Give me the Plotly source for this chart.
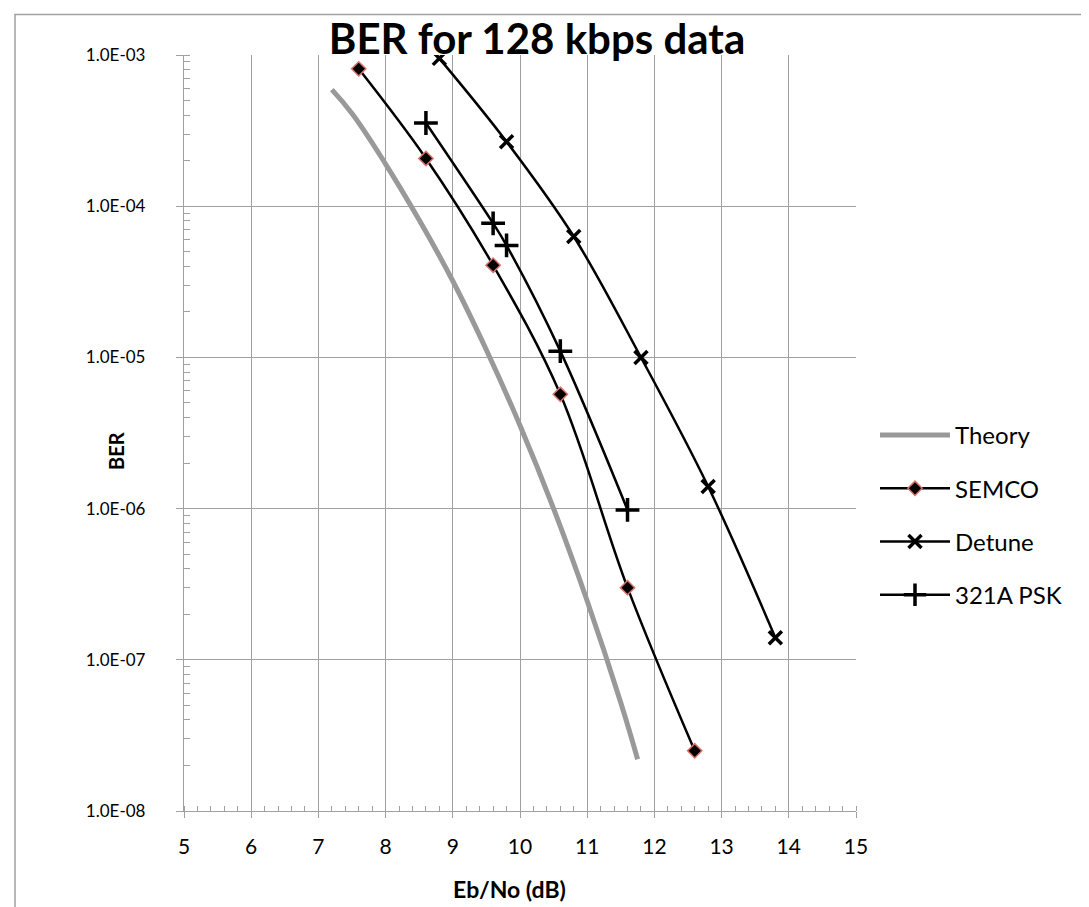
import plotly.graph_objects as go

# ---- data ----
theory_x = [7.2, 7.5, 8.0, 8.5, 9.0, 9.5, 10.0, 10.5, 11.0, 11.5, 11.75]
theory_y = [5.9e-4, 4.1e-4, 1.9e-4, 8.1e-5, 3.2e-5, 1.12e-5, 3.55e-6, 1.0e-6, 2.45e-7, 5.2e-8, 2.2e-8]

semco_x = [7.6, 8.6, 9.6, 10.6, 11.6, 12.6]
semco_y = [8.1e-4, 2.07e-4, 4.07e-5, 5.7e-6, 3.0e-7, 2.5e-8]

detune_x = [8.8, 9.8, 10.8, 11.8, 12.8, 13.8]
detune_y = [9.5e-4, 2.67e-4, 6.3e-5, 1.0e-5, 1.4e-6, 1.4e-7]

psk_x = [8.6, 9.6, 9.8, 10.6, 11.6]
psk_y = [3.55e-4, 7.7e-5, 5.5e-5, 1.1e-5, 9.8e-7]

y_tickvals = [1e-3, 1e-4, 1e-5, 1e-6, 1e-7, 1e-8]
y_ticktext = ["1.0E-03", "1.0E-04", "1.0E-05", "1.0E-06", "1.0E-07", "1.0E-08"]
x_tickvals = [5, 6, 7, 8, 9, 10, 11, 12, 13, 14, 15]

FONT = "Lato"
GRID = "#a0a0a0"
W, H = 1089, 907
L, R, T, B = 176, 241, 47, 104
PW, PH = W - L - R, H - T - B


def px(xp):
    return (xp - L) / PW


def py(yp):
    return (H - B - yp) / PH


fig = go.Figure()
fig.add_trace(go.Scatter(x=theory_x, y=theory_y, name="Theory", mode="lines", legendgroup="a",
                         line=dict(color="#999999", width=5, shape="spline", smoothing=1.2)))
fig.add_trace(go.Scatter(x=semco_x, y=semco_y, name="SEMCO", mode="lines+markers", legendgroup="b",
                         line=dict(color="black", width=2.5, shape="spline", smoothing=1.0),
                         marker=dict(symbol="diamond", size=11, color="black",
                                     line=dict(color="#d9736c", width=1.5))))
fig.add_trace(go.Scatter(x=detune_x, y=detune_y, name="Detune", mode="lines+markers", legendgroup="c",
                         line=dict(color="black", width=2.5, shape="spline", smoothing=1.0),
                         marker=dict(symbol="x-thin", size=13, color="black",
                                     line=dict(color="black", width=3.5))))
fig.add_trace(go.Scatter(x=psk_x, y=psk_y, name="321A PSK", mode="lines+markers", legendgroup="d",
                         line=dict(color="black", width=2.5, shape="spline", smoothing=1.0),
                         marker=dict(symbol="cross-thin", size=17, color="black",
                                     line=dict(color="black", width=3.5))))

fig.update_layout(
    width=W, height=H,
    margin=dict(l=L, r=R, t=T, b=B),
    paper_bgcolor="white", plot_bgcolor="white",
    font=dict(family=FONT, color="black"),
    title=dict(text="<b>BER for 128 kbps data</b>", x=px(529), xref="paper", xanchor="center",
               y=1 - 31 / H, yanchor="middle", font=dict(family=FONT, size=42, color="black")),
    showlegend=True,
    legend=dict(x=px(867), xanchor="left", y=py(507), yanchor="middle", font=dict(size=24, family=FONT),
                itemwidth=70, tracegroupgap=19, bgcolor="rgba(0,0,0,0)"),
    shapes=[dict(type="rect", xref="paper", yref="paper", x0=px(7), x1=3, y0=-3, y1=py(6.5),
                 line=dict(color=GRID, width=1.5), fillcolor="rgba(0,0,0,0)", layer="below")],
    annotations=[
        dict(text="<b>BER</b>", xref="paper", yref="paper", x=px(108), y=py(443),
             xanchor="center", yanchor="middle", textangle=-90, showarrow=False,
             font=dict(size=20, family=FONT)),
        dict(text="<b>Eb/No (dB)</b>", xref="paper", yref="paper", x=px(501), y=py(881),
             xanchor="center", yanchor="middle", showarrow=False,
             font=dict(size=23, family=FONT)),
    ],
)

fig.update_xaxes(range=[5, 15], tickvals=x_tickvals, showgrid=True, gridcolor=GRID, gridwidth=1.3,
                 showline=True, linecolor=GRID, linewidth=1.3, zeroline=False,
                 ticks="outside", ticklen=6, tickcolor=GRID, tickfont=dict(size=21),
                 ticklabelstandoff=11,
                 minor=dict(ticks="inside", dtick=0.2, ticklen=5, tickcolor=GRID, showgrid=False))
fig.update_yaxes(type="log", range=[-8, -3], tickvals=y_tickvals, ticktext=y_ticktext,
                 showgrid=True, gridcolor=GRID, gridwidth=1.3,
                 showline=True, linecolor=GRID, linewidth=1.3, zeroline=False,
                 ticks="outside", ticklen=7, tickcolor=GRID, tickfont=dict(size=17),
                 ticklabelstandoff=27,
                 minor=dict(ticks="inside", dtick="D1", ticklen=6, tickcolor=GRID, showgrid=False))

fig.write_html("out.html")
